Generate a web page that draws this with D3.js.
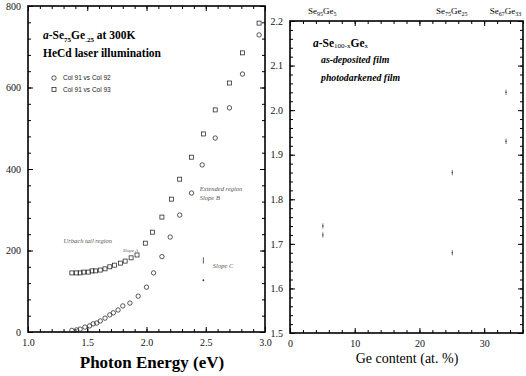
<!DOCTYPE html>
<html>
<head>
<meta charset="utf-8">
<script src="https://cdn.jsdelivr.net/npm/d3@7"></script>
<style>
  body { margin: 0; background: #fff; }
  svg { display: block; font-family: "Liberation Serif", serif; }
  .tick text { font-size: 10px; fill: #111; }
  .tick line { stroke: #000; stroke-width: 1; }
</style>
</head>
<body>
<svg id="chart" width="526" height="376"></svg>
<script>
// left panel: absorption vs photon energy
var circleEnergy = [1.37, 1.41, 1.44, 1.48, 1.52, 1.55, 1.58, 1.61, 1.65, 1.69, 1.72, 1.76, 1.80,
  1.86, 1.93, 2.00, 2.06, 2.13, 2.20, 2.28, 2.38, 2.47, 2.58, 2.70, 2.81, 2.95];
var circleValues = [4, 5, 7, 12, 15, 20, 22, 27, 34, 42, 47, 54, 64,
  71, 88, 110, 145, 185, 233, 287, 341, 410, 476, 550, 633, 729];
var squareEnergy = [1.37, 1.41, 1.44, 1.47, 1.51, 1.54, 1.57, 1.61, 1.65, 1.69, 1.73, 1.78, 1.82,
  1.87, 1.92, 1.99, 2.05, 2.13, 2.21, 2.28, 2.38, 2.48, 2.58, 2.70, 2.81, 2.95];
var squareValues = [145, 145, 145, 147, 147, 150, 150, 152, 155, 160, 164, 169, 174,
  182, 189, 218, 245, 282, 326, 375, 429, 486, 545, 611, 685, 758];
var energyTicks = [1.0, 1.5, 2.0, 2.5, 3.0];
var absTicks = [0, 200, 400, 600, 800];
var legendLabels = ['Col 91 vs Col 92', 'Col 91 vs Col 93'];

// right panel: optical gap vs Ge content
var geContent = [5, 25, 33.3];
var gapDeposited = [1.74, 1.86, 2.04];
var gapDarkened = [1.72, 1.68, 1.93];
var geTicks = [0, 10, 20, 30];
var gapTicks = [1.5, 1.6, 1.7, 1.8, 1.9, 2.0, 2.1, 2.2];
var compositions = [['Se', '95', 'Ge', '5'], ['Se', '75', 'Ge', '25'], ['Se', '67', 'Ge', '33']];

var svg = d3.select('#chart');

var xL = d3.scaleLinear().domain([1, 3]).range([28, 265]);
var yL = d3.scaleLinear().domain([0, 800]).range([332, 6]);
var xR = d3.scaleLinear().domain([0, 36]).range([290, 523]);
var yR = d3.scaleLinear().domain([1.5, 2.2]).range([333, 21]);

function minorTicks(scale, step) {
  var d = scale.domain(), out = [];
  for (var v = d[0]; v <= d[1] + 1e-9; v += step) out.push(+v.toFixed(4));
  return out;
}

// d3 axes put sans-serif on their group, the scan uses a serif face
function tidy(a) {
  a.select('.domain').remove();
  a.attr('font-family', 'Liberation Serif, serif').attr('font-size', 10);
}

// draws all four sides of a framed panel, ticks pointing inward
function frame(x, y, xMajor, xStep, yMajor, yStep, xFmt, yFmt) {
  var g = svg.append('g');
  var x0 = x.range()[0], x1 = x.range()[1], y0 = y.range()[0], y1 = y.range()[1];
  var sides = [
    [d3.axisBottom, x, 'translate(0,' + y0 + ')', xMajor, xStep, xFmt],
    [d3.axisTop, x, 'translate(0,' + y1 + ')', xMajor, xStep, null],
    [d3.axisLeft, y, 'translate(' + x0 + ',0)', yMajor, yStep, yFmt],
    [d3.axisRight, y, 'translate(' + x1 + ',0)', yMajor, yStep, null]
  ];
  sides.forEach(function (s) {
    var minor = s[0](s[1]).tickValues(minorTicks(s[1], s[4])).tickSize(-3).tickFormat('');
    g.append('g').attr('transform', s[2]).call(minor).call(tidy);
    var major = s[0](s[1]).tickValues(s[3]).tickSize(-5).tickPadding(7)
      .tickFormat(s[5] ? s[5] : function () { return ''; });
    g.append('g').attr('transform', s[2]).call(major).call(tidy);
  });
  g.append('rect')
    .attr('x', x0).attr('y', y1)
    .attr('width', x1 - x0).attr('height', y0 - y1)
    .attr('fill', 'none').attr('stroke', '#000').attr('stroke-width', 1.6);
  return g;
}

frame(xL, yL, energyTicks, 0.1, absTicks, 40, d3.format('.1f'), d3.format('d'));
frame(xR, yR, geTicks, 2, gapTicks, 0.02, d3.format('d'), d3.format('.1f'));

// left panel markers
svg.append('g').selectAll('circle')
  .data(circleEnergy)
  .join('circle')
  .attr('cx', function (d) { return xL(d); })
  .attr('cy', function (d, i) { return yL(circleValues[i]); })
  .attr('r', 2.2)
  .attr('fill', 'none').attr('stroke', '#222').attr('stroke-width', 0.75);

svg.append('g').selectAll('rect')
  .data(squareEnergy)
  .join('rect')
  .attr('x', function (d) { return xL(d) - 2; })
  .attr('y', function (d, i) { return yL(squareValues[i]) - 2; })
  .attr('width', 4).attr('height', 4)
  .attr('fill', 'none').attr('stroke', '#222').attr('stroke-width', 0.75);

// left panel title
var t1 = svg.append('text').attr('x', 43).attr('y', 39)
  .attr('font-size', 11.5).attr('font-weight', 'bold');
t1.append('tspan').attr('font-style', 'italic').text('a');
t1.append('tspan').text('-Se');
t1.append('tspan').attr('font-size', 7).attr('dy', 3).text('75');
t1.append('tspan').attr('dy', -3).text('Ge');
t1.append('tspan').attr('font-size', 7).attr('dy', 3).text('.25');
t1.append('tspan').attr('dy', -3).text(' at 300K');
svg.append('text').attr('x', 43).attr('y', 57)
  .attr('font-size', 11.5).attr('font-weight', 'bold')
  .text('HeCd laser illumination');

// legend
var leg = svg.append('g').attr('font-family', 'Liberation Sans, sans-serif').attr('font-size', 6.5);
legendLabels.forEach(function (lab, i) {
  var yy = 78 + i * 11.5;
  if (i === 0) {
    leg.append('circle').attr('cx', 54).attr('cy', yy).attr('r', 2.2)
      .attr('fill', 'none').attr('stroke', '#222').attr('stroke-width', 0.75);
  } else {
    leg.append('rect').attr('x', 52).attr('y', yy - 2).attr('width', 4).attr('height', 4)
      .attr('fill', 'none').attr('stroke', '#222').attr('stroke-width', 0.75);
  }
  leg.append('text').attr('x', 63).attr('y', yy + 2.3).attr('fill', '#222').text(lab);
});

// region annotations (energy, value, label, size)
var notes = [
  [1.30, 218, 'Urbach tail region', 6.5],
  [1.80, 196, 'Slope A', 5],
  [2.45, 345, 'Extended region', 6.5],
  [2.45, 323, 'Slope  B', 6.5],
  [2.56, 158, 'Slope  C', 6.5]
];
svg.append('g').selectAll('text')
  .data(notes)
  .join('text')
  .attr('x', function (d) { return xL(d[0]); })
  .attr('y', function (d) { return yL(d[1]); })
  .attr('font-size', function (d) { return d[3]; })
  .attr('font-style', 'italic').attr('fill', '#555')
  .text(function (d) { return d[2]; });

svg.append('line')
  .attr('x1', xL(2.48)).attr('x2', xL(2.48))
  .attr('y1', yL(183)).attr('y2', yL(168))
  .attr('stroke', '#333').attr('stroke-width', 0.8);
svg.append('circle').attr('cx', xL(2.48)).attr('cy', yL(127)).attr('r', 0.9).attr('fill', '#333');

// axis titles
svg.append('text').attr('x', 152).attr('y', 368)
  .attr('text-anchor', 'middle').attr('font-size', 17).attr('font-weight', 'bold')
  .text('Photon Energy (eV)');
svg.append('text').attr('x', 407).attr('y', 363)
  .attr('text-anchor', 'middle').attr('font-size', 14)
  .text('Ge content (at. %)');

// right panel composition labels on top
compositions.forEach(function (c, i) {
  var t = svg.append('text').attr('x', xR(geContent[i])).attr('y', 14)
    .attr('text-anchor', 'middle').attr('font-size', 9);
  t.append('tspan').text(c[0]);
  t.append('tspan').attr('font-size', 6).attr('dy', 1.5).text(c[1]);
  t.append('tspan').attr('dy', -1.5).text(c[2]);
  t.append('tspan').attr('font-size', 6).attr('dy', 1.5).text(c[3]);
});

// right panel title
var t2 = svg.append('text').attr('x', 313).attr('y', 47)
  .attr('font-size', 11.5).attr('font-weight', 'bold');
t2.append('tspan').attr('font-style', 'italic').text('a');
t2.append('tspan').text('-Se');
t2.append('tspan').attr('font-size', 7).attr('font-weight', 'normal').attr('dy', 1).text('100-x');
t2.append('tspan').attr('dy', -1).text('Ge');
t2.append('tspan').attr('font-size', 7).attr('font-weight', 'normal').attr('dy', 1).text('x');
svg.append('text').attr('x', 321).attr('y', 63)
  .attr('font-size', 9.8).attr('font-weight', 'bold').attr('font-style', 'italic')
  .text('as-deposited film');
svg.append('text').attr('x', 321).attr('y', 81)
  .attr('font-size', 9.8).attr('font-weight', 'bold').attr('font-style', 'italic')
  .text('photodarkened film');

// right panel points: tiny error-bar marks
[gapDeposited, gapDarkened].forEach(function (series) {
  var g = svg.append('g');
  g.selectAll('line')
    .data(series)
    .join('line')
    .attr('x1', function (d, i) { return xR(geContent[i]) + 0.5; })
    .attr('x2', function (d, i) { return xR(geContent[i]) + 0.5; })
    .attr('y1', function (d) { return yR(d + 0.006); })
    .attr('y2', function (d) { return yR(d - 0.006); })
    .attr('stroke', '#444').attr('stroke-width', 0.7);
  g.selectAll('circle')
    .data(series)
    .join('circle')
    .attr('cx', function (d, i) { return xR(geContent[i]) + 0.5; })
    .attr('cy', function (d) { return yR(d); })
    .attr('r', 0.8)
    .attr('fill', '#444');
});
</script>
</body>
</html>
